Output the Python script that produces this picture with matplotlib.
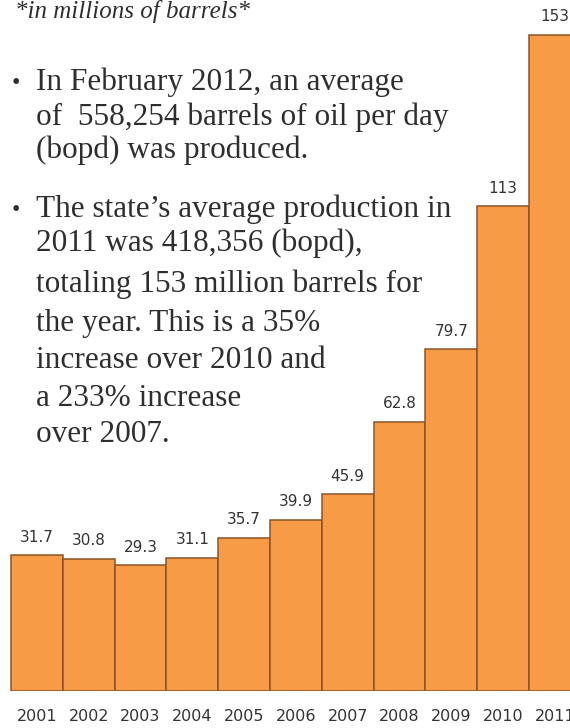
"""Annual oil production bar chart with a short bulleted summary."""

import matplotlib

matplotlib.use("Agg")

import matplotlib.pyplot as plt

years = ["2001", "2002", "2003", "2004", "2005", "2006", "2007", "2008", "2009", "2010", "2011"]
production = [31.7, 30.8, 29.3, 31.1, 35.7, 39.9, 45.9, 62.8, 79.7, 113, 153]
value_labels = ["31.7", "30.8", "29.3", "31.1", "35.7", "39.9", "45.9", "62.8", "79.7", "113", "153"]

units_note = "*in millions of barrels*"
bullet_one = [
    "In February 2012, an average",
    "of  558,254 barrels of oil per day",
    "(bopd) was produced.",
]
bullet_two = [
    "The state\u2019s average production in",
    "2011 was 418,356 (bopd),",
    "totaling 153 million barrels for",
    "the year. This is a 35%",
    "increase over 2010 and",
    "a 233% increase",
    "over 2007.",
]

W, H = 570, 728
BAR_COLOR = "#F89B47"
EDGE_COLOR = "#8A5428"
TEXT_COLOR = "#2E2E2E"


def px(x, y):
    # pixel position (from top-left) to figure fraction
    return x / W, 1 - y / H


fig = plt.figure(figsize=(W / 100, H / 100), dpi=100)
fig.patch.set_facecolor("white")

ax = fig.add_axes([0, 37 / H, 1, 1 - 37 / H])
x = range(len(years))
bars = ax.bar(x, production, width=1.0, color=BAR_COLOR, edgecolor=EDGE_COLOR, linewidth=1.1)
ax.set_xlim(-0.712, 10.292)
ax.set_ylim(0, 161.15)

for rect, label in zip(bars, value_labels):
    ax.annotate(
        label,
        (rect.get_x() + rect.get_width() / 2, rect.get_height()),
        xytext=(0, 13),
        textcoords="offset points",
        ha="center",
        va="center",
        fontsize=11,
        color="#333333",
        family="DejaVu Sans",
    )

ax.set_xticks(list(x))
ax.set_xticklabels(years, fontsize=11.5, color="#333333", family="DejaVu Sans")
ax.tick_params(axis="x", length=0, pad=13)
ax.set_yticks([])
for spine in ax.spines.values():
    spine.set_visible(False)
ax.patch.set_alpha(0)

serif = ["Liberation Serif", "DejaVu Serif"]

fig.text(*px(15, 18), units_note, fontsize=18, style="italic", family=serif,
         color=TEXT_COLOR, ha="left", va="baseline")

first_baselines = [90, 125, 158]
second_baselines = [217, 251, 292, 331, 368, 406, 442]

for lines, baselines in ((bullet_one, first_baselines), (bullet_two, second_baselines)):
    fig.text(*px(12, baselines[0] - 1), "\u2022", fontsize=17, family=serif,
             color=TEXT_COLOR, ha="left", va="baseline")
    for line, yb in zip(lines, baselines):
        fig.text(*px(36, yb), line, fontsize=22.5, family=serif,
                 color=TEXT_COLOR, ha="left", va="baseline")

fig.savefig("out.png", dpi=100, facecolor="white")
